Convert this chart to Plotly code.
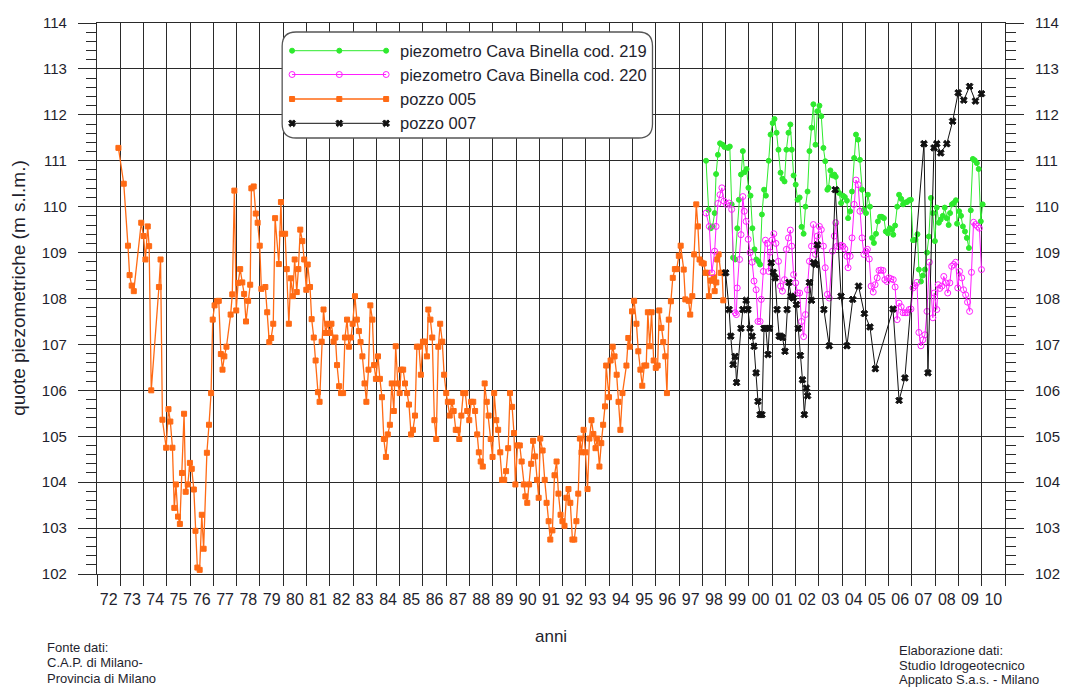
import plotly.graph_objects as go

# ---------------------------------------------------------------- data
# decimal years and groundwater levels (m s.l.m.)
anni_005 = [
    1972.92, 1973.15, 1973.33, 1973.40, 1973.49, 1973.58, 1973.90, 1974.00, 1974.08, 1974.18,
    1974.24, 1974.33, 1974.66, 1974.73, 1974.81, 1974.97, 1975.07, 1975.15, 1975.24, 1975.32,
    1975.39, 1975.48, 1975.56, 1975.65, 1975.74, 1975.81, 1975.90, 1975.99, 1976.07, 1976.16,
    1976.23, 1976.31, 1976.41, 1976.50, 1976.58, 1976.72, 1976.81, 1976.90, 1976.97, 1977.05,
    1977.15, 1977.23, 1977.32, 1977.39, 1977.47, 1977.56, 1977.74, 1977.81, 1977.90, 1977.98,
    1978.06, 1978.15, 1978.24, 1978.32, 1978.40, 1978.49, 1978.58, 1978.63, 1978.73, 1978.82,
    1978.90, 1978.99, 1979.06, 1979.23, 1979.31, 1979.40, 1979.48, 1979.57, 1979.65, 1979.81,
    1979.90, 1979.94, 1980.08, 1980.15, 1980.24, 1980.32, 1980.41, 1980.49, 1980.58, 1980.65,
    1980.73, 1980.82, 1980.90, 1980.99, 1981.05, 1981.15, 1981.22, 1981.31, 1981.39, 1981.49,
    1981.56, 1981.65, 1981.73, 1981.82, 1981.90, 1981.99, 1982.07, 1982.16, 1982.24, 1982.31,
    1982.40, 1982.48, 1982.57, 1982.65, 1982.74, 1982.82, 1982.91, 1982.98, 1983.08, 1983.16,
    1983.25, 1983.32, 1983.40, 1983.49, 1983.57, 1983.66, 1983.74, 1983.83, 1983.90, 1983.98,
    1984.07, 1984.15, 1984.24, 1984.32, 1984.41, 1984.49, 1984.58, 1984.66, 1984.75, 1984.83,
    1984.92, 1985.00, 1985.06, 1985.15, 1985.23, 1985.32, 1985.40, 1985.49, 1985.57, 1985.66,
    1985.74, 1985.83, 1985.91, 1986.00, 1986.08, 1986.17, 1986.23, 1986.32, 1986.40, 1986.49,
    1986.57, 1986.66, 1986.74, 1986.83, 1986.91, 1987.00, 1987.07, 1987.15, 1987.24, 1987.32,
    1987.41, 1987.49, 1987.56, 1987.65, 1987.73, 1987.82, 1987.90, 1987.99, 1988.07, 1988.16,
    1988.24, 1988.33, 1988.40, 1988.48, 1988.57, 1988.65, 1988.74, 1988.82, 1988.91, 1988.99,
    1989.06, 1989.15, 1989.23, 1989.32, 1989.40, 1989.49, 1989.57, 1989.66, 1989.74, 1989.83,
    1989.91, 1989.97, 1990.06, 1990.16, 1990.24, 1990.33, 1990.40, 1990.48, 1990.56, 1990.65,
    1990.73, 1990.82, 1990.90, 1990.97, 1991.04, 1991.14, 1991.23, 1991.31, 1991.40, 1991.47,
    1991.56, 1991.65, 1991.74, 1991.82, 1991.91, 1991.99, 1992.08, 1992.16, 1992.25, 1992.33,
    1992.42, 1992.50, 1992.59, 1992.67, 1992.74, 1992.81, 1992.90, 1992.98, 1993.07, 1993.15,
    1993.24, 1993.32, 1993.41, 1993.49, 1993.58, 1993.66, 1993.74, 1993.82, 1993.87, 1993.99,
    1994.06, 1994.15, 1994.23, 1994.32, 1994.40, 1994.48, 1994.57, 1994.74, 1994.82, 1994.88,
    1994.98, 1995.07, 1995.17, 1995.25, 1995.34, 1995.42, 1995.51, 1995.59, 1995.66, 1995.74,
    1995.82, 1995.91, 1996.00, 1996.08, 1996.15, 1996.24, 1996.32, 1996.41, 1996.48, 1996.56,
    1996.65, 1996.73, 1996.82, 1996.90, 1996.99, 1997.07, 1997.20, 1997.27, 1997.41, 1997.48,
    1997.57, 1997.65, 1997.74, 1997.81, 1997.88, 1997.97, 1998.06, 1998.14, 1998.22, 1998.28,
    1998.36, 1998.42, 1998.49, 1998.53, 1998.60, 1998.64, 1998.70, 1998.79, 1998.85, 1998.90,
]
quote_005 = [
    111.28, 110.50, 109.15, 108.51, 108.28, 108.16, 109.65, 109.36, 108.85, 109.57,
    109.14, 106.00, 108.25, 108.85, 105.36, 104.75, 105.59, 105.32, 104.75, 103.44,
    103.95, 103.25, 103.09, 104.20, 105.49, 103.79, 103.95, 104.42, 104.29, 103.84,
    102.94, 102.14, 102.09, 103.29, 102.55, 104.64, 105.25, 105.94, 107.54, 107.85,
    107.94, 107.95, 106.79, 106.45, 106.74, 106.95, 107.65, 108.09, 110.35, 107.74,
    108.34, 108.64, 108.35, 108.10, 107.50, 107.95, 108.30, 110.40, 110.44, 109.85,
    109.65, 109.15, 108.21, 108.25, 107.70, 107.05, 107.14, 107.45, 109.75, 108.75,
    110.10, 109.41, 109.41, 108.64, 107.45, 108.44, 108.05, 108.85, 108.14, 108.64,
    109.50, 109.25, 108.85, 108.19, 108.74, 108.25, 107.55, 107.15, 106.65, 105.96,
    105.75, 107.06, 107.76, 107.25, 107.45, 107.25, 107.45, 107.06, 107.15, 106.55,
    106.09, 105.94, 105.94, 107.15, 107.54, 106.95, 107.15, 107.45, 108.05, 107.54,
    107.29, 107.05, 106.74, 106.15, 105.75, 106.45, 107.85, 107.54, 106.55, 106.25,
    106.74, 106.25, 105.85, 104.94, 104.55, 105.04, 105.25, 106.15, 105.55, 106.96,
    106.15, 105.94, 106.45, 106.45, 106.15, 105.94, 105.69, 105.04, 105.14, 105.45,
    106.95, 106.95, 106.34, 107.06, 107.06, 106.74, 107.76, 107.54, 107.15, 105.35,
    104.94, 106.95, 107.45, 107.06, 106.34, 105.94, 105.75, 105.45, 105.75, 105.55,
    105.14, 105.14, 104.94, 105.45, 105.94, 105.94, 105.55, 105.35, 105.75, 105.75,
    105.55, 105.04, 104.65, 104.45, 104.34, 106.15, 105.75, 105.45, 104.94, 104.55,
    105.94, 105.35, 105.14, 104.65, 104.05, 104.05, 104.24, 104.74, 105.94, 105.64,
    105.07, 103.95, 104.80, 104.80, 104.45, 103.95, 103.69, 103.55, 103.95, 104.40,
    104.90, 104.56, 104.05, 103.66, 104.95, 104.69, 104.05, 103.55, 103.15, 102.75,
    102.95, 104.15, 104.45, 103.75, 103.29, 103.15, 103.05, 103.66, 103.85, 103.55,
    102.75, 102.75, 103.15, 103.75, 104.95, 104.65, 105.14, 104.65, 103.85, 104.95,
    105.35, 105.05, 104.74, 104.95, 104.34, 104.85, 105.25, 105.65, 106.54, 105.85,
    106.65, 106.95, 106.74, 106.34, 105.75, 105.14, 105.94, 106.54, 107.14, 106.95,
    107.72, 107.95, 107.45, 106.85, 106.45, 106.10, 106.54, 106.54, 107.70, 106.96,
    107.70, 106.65, 106.49, 106.54, 107.74, 107.36, 107.05, 106.74, 105.94, 107.54,
    107.94, 108.45, 108.64, 108.64, 108.93, 109.15, 108.63, 107.98, 107.95, 107.65,
    108.05, 108.96, 110.05, 109.57, 108.85, 108.78, 108.76, 108.56, 108.56, 108.05,
    108.39, 108.39, 108.46, 108.16, 108.35, 108.85, 108.96, 108.56, 108.56, 107.96,
]

anni_219 = [
    1998.16, 1998.27, 1998.36, 1998.44, 1998.53, 1998.59, 1998.67, 1998.76, 1998.87, 1998.95,
    1999.10, 1999.18, 1999.26, 1999.32, 1999.41, 1999.50, 1999.57, 1999.66, 1999.74, 1999.81,
    1999.90, 1999.98, 2000.07, 2000.15, 2000.24, 2000.32, 2000.41, 2000.48, 2000.56, 2000.65,
    2000.73, 2000.85, 2000.93, 2001.02, 2001.10, 2001.19, 2001.27, 2001.36, 2001.44, 2001.53,
    2001.61, 2001.70, 2001.78, 2001.84, 2001.92, 2002.01, 2002.09, 2002.18, 2002.26, 2002.35,
    2002.43, 2002.52, 2002.60, 2002.69, 2002.77, 2002.86, 2002.94, 2003.03, 2003.11, 2003.20,
    2003.28, 2003.37, 2003.42, 2003.50, 2003.59, 2003.67, 2003.73, 2003.79, 2003.87, 2003.96,
    2004.04, 2004.12, 2004.21, 2004.26, 2004.35, 2004.43, 2004.52, 2004.60, 2004.69, 2004.77,
    2004.86, 2004.94, 2005.03, 2005.11, 2005.20, 2005.29, 2005.37, 2005.46, 2005.54, 2005.63,
    2005.71, 2005.80, 2005.88, 2005.97, 2006.05, 2006.14, 2006.20, 2006.28, 2006.37, 2006.45,
    2006.54, 2006.62, 2006.71, 2006.79, 2006.88, 2006.96, 2007.05, 2007.15, 2007.24, 2007.30,
    2007.39, 2007.47, 2007.56, 2007.65, 2007.73, 2007.82, 2007.90, 2007.99, 2008.07, 2008.16,
    2008.24, 2008.33, 2008.41, 2008.50, 2008.58, 2008.64, 2008.72, 2008.80, 2008.89, 2008.94,
    2009.03, 2009.11, 2009.19, 2009.28, 2009.36, 2009.45, 2009.53, 2009.62, 2009.70, 2009.79,
    2009.87, 2009.96, 2010.04,
]
quote_219 = [
    111.00, 109.93, 109.53, 109.57, 109.86, 110.71, 111.13, 111.38, 111.35, 111.30,
    111.28, 111.31, 110.05, 108.89, 108.85, 109.53, 110.15, 110.70, 111.21, 110.75,
    110.82, 110.41, 110.24, 109.53, 109.07, 108.85, 108.81, 108.74, 109.83, 110.37,
    110.24, 111.00, 111.57, 111.82, 111.91, 111.61, 111.24, 110.74, 110.61, 110.55,
    111.24, 111.61, 111.79, 111.24, 110.68, 110.48, 110.15, 110.20, 109.56, 109.41,
    110.00, 110.33, 111.21, 111.72, 112.23, 111.35, 112.08, 112.20, 111.97, 111.28,
    110.99, 110.37, 110.41, 110.79, 110.68, 110.70, 110.65, 110.37, 110.30, 110.08,
    110.24, 110.21, 110.13, 109.75, 109.90, 110.33, 111.06, 111.57, 111.46, 111.02,
    110.37, 109.93, 109.86, 110.26, 110.00, 109.32, 109.21, 109.41, 109.68, 109.78,
    109.78, 109.75, 109.46, 109.42, 109.53, 109.50, 109.39, 109.59, 110.00, 110.26,
    110.17, 110.05, 110.09, 110.10, 110.14, 110.15, 109.27, 109.28, 109.40, 108.63,
    108.37, 108.50, 108.63, 109.00, 109.35, 110.19, 109.86, 109.25, 109.98, 109.65,
    109.72, 109.80, 109.98, 109.75, 109.60, 109.86, 110.05, 110.08, 110.14, 109.63,
    109.90, 109.80, 109.57, 109.46, 109.32, 109.10, 109.92, 111.04, 111.01, 110.95,
    110.82, 109.68, 110.05,
]

anni_220 = [
    1998.16, 1998.30, 1998.41, 1998.53, 1998.59, 1998.67, 1998.76, 1998.84, 1998.93, 1999.04,
    1999.15, 1999.26, 1999.41, 1999.46, 1999.50, 1999.60, 1999.66, 1999.74, 1999.80, 1999.88,
    1999.97, 2000.05, 2000.14, 2000.22, 2000.31, 2000.39, 2000.48, 2000.53, 2000.62, 2000.71,
    2000.79, 2000.85, 2000.91, 2000.99, 2001.07, 2001.16, 2001.27, 2001.36, 2001.44, 2001.53,
    2001.61, 2001.70, 2001.78, 2001.84, 2001.92, 2002.01, 2002.09, 2002.18, 2002.26, 2002.35,
    2002.43, 2002.52, 2002.60, 2002.69, 2002.77, 2002.86, 2002.94, 2003.03, 2003.11, 2003.20,
    2003.28, 2003.37, 2003.45, 2003.59, 2003.67, 2003.73, 2003.79, 2003.87, 2003.96, 2004.04,
    2004.12, 2004.21, 2004.26, 2004.35, 2004.43, 2004.52, 2004.60, 2004.69, 2004.77, 2004.86,
    2004.94, 2005.03, 2005.09, 2005.17, 2005.25, 2005.34, 2005.42, 2005.51, 2005.59, 2005.67,
    2005.76, 2005.84, 2005.93, 2006.01, 2006.10, 2006.20, 2006.28, 2006.37, 2006.45, 2006.54,
    2006.62, 2006.71, 2006.79, 2006.88, 2006.96, 2007.05, 2007.14, 2007.22, 2007.30, 2007.39,
    2007.47, 2007.56, 2007.65, 2007.75, 2007.90, 2007.96, 2008.07, 2008.13, 2008.20, 2008.29,
    2008.37, 2008.46, 2008.54, 2008.63, 2008.71, 2008.80, 2008.88, 2008.97, 2009.05, 2009.14,
    2009.22, 2009.31, 2009.39, 2009.48, 2009.56, 2009.65, 2009.73, 2009.82, 2009.90, 2009.99,
]
quote_220 = [
    109.86, 109.57, 108.56, 109.03, 109.57, 110.07, 110.26, 110.41, 110.12, 110.05,
    110.08, 109.94, 107.69, 107.65, 108.23, 108.85, 109.39, 110.22, 109.90, 109.68,
    109.29, 109.00, 108.79, 108.38, 108.19, 107.50, 107.50, 107.98, 108.59, 109.27,
    109.20, 108.59, 109.01, 109.27, 109.41, 109.20, 108.81, 108.27, 108.16, 108.41,
    109.07, 109.32, 109.49, 109.14, 108.52, 108.34, 108.12, 108.12, 107.50, 107.17,
    107.65, 108.19, 108.81, 109.14, 109.61, 108.96, 109.36, 109.57, 109.50, 109.14,
    108.67, 108.09, 108.01, 109.03, 109.36, 109.65, 109.14, 109.13, 109.16, 109.14,
    109.08, 108.92, 108.67, 108.92, 109.32, 110.05, 110.58, 110.48, 109.90, 109.32,
    108.96, 109.03, 109.07, 108.86, 108.27, 108.14, 108.30, 108.45, 108.61, 108.62,
    108.61, 108.41, 108.37, 108.45, 108.43, 108.41, 108.25, 107.54, 107.90, 107.82,
    107.69, 107.69, 107.69, 107.76, 107.77, 108.23, 108.28, 108.35, 107.26, 106.97,
    107.10, 107.21, 107.72, 108.79, 107.58, 108.12, 107.76, 108.30, 108.22, 108.27,
    108.48, 108.34, 108.12, 108.34, 108.70, 108.74, 108.79, 108.23, 108.59, 108.45,
    108.19, 108.08, 107.92, 107.72, 108.57, 109.66, 109.61, 109.57, 109.53, 108.63,
]

anni_007 = [
    1999.00, 1999.15, 1999.22, 1999.32, 1999.41, 1999.47, 1999.66, 1999.74, 1999.88, 1999.96,
    2000.05, 2000.14, 2000.22, 2000.31, 2000.39, 2000.48, 2000.56, 2000.65, 2000.73, 2000.82,
    2000.88, 2000.96, 2001.05, 2001.13, 2001.21, 2001.30, 2001.36, 2001.44, 2001.55, 2001.64,
    2001.72, 2001.81, 2001.90, 2002.04, 2002.12, 2002.21, 2002.30, 2002.38, 2002.47, 2002.52,
    2002.60, 2002.69, 2002.78, 2002.86, 2002.94, 2003.22, 2003.45, 2003.71, 2003.96, 2004.21,
    2004.46, 2004.71, 2004.96, 2005.20, 2005.43, 2006.19, 2006.45, 2006.70, 2007.52, 2007.69,
    2007.95, 2008.07, 2008.24, 2008.50, 2008.75, 2008.99, 2009.23, 2009.48, 2009.73, 2009.99,
]
quote_007 = [
    108.56, 107.76, 107.18, 106.56, 106.74, 106.17, 107.35, 107.76, 107.96, 107.76,
    107.35, 107.18, 106.96, 106.38, 105.76, 105.47, 105.47, 107.35, 107.35, 106.78,
    107.35, 108.78, 108.57, 108.45, 107.76, 107.18, 107.18, 107.15, 106.85, 107.76,
    108.35, 108.05, 108.01, 107.87, 107.35, 106.76, 106.23, 105.47, 106.05, 105.88,
    108.35, 107.96, 108.78, 108.74, 109.17, 107.76, 106.97, 110.37, 108.05, 106.97,
    107.98, 108.27, 107.67, 107.38, 106.47, 107.77, 105.78, 106.27, 111.37, 106.38,
    111.28, 111.37, 111.17, 111.37, 111.86, 112.48, 112.32, 112.62, 112.30, 112.46,
]

anni_etichette = list(range(1972, 2011))
etichette_anni = [f"{a % 100:02d}" for a in anni_etichette]

serie = [
    ("piezometro Cava Binella cod. 219", "#2EEA2E", "circle", 5, 1),
    ("piezometro Cava Binella cod. 220", "#FF1EFF", "circle-open", 6, 1),
    ("pozzo 005", "#FF6A14", "square", 5, 1.3),
    ("pozzo 007", "#111111", "x", 6, 1),
]

# ---------------------------------------------------------------- geometry
W, H = 1072, 688
ML, MR, MT, MB = 97, 58, 23, 114
PW, PH = W - ML - MR, H - MT - MB
X0, X1 = 1972, 2011
Y0, Y1 = 102, 114
FONT = "Liberation Sans, Arial, sans-serif"
TXT = "#1f1f2e"
GRID = "#2a2a2a"


def fx(px):  # pixel column -> paper
    return (px - ML) / PW


def fy(py):  # pixel row -> paper
    return (H - MB - py) / PH


def dx(px):  # pixel column -> year axis
    return X0 + (px - ML) / PW * (X1 - X0)


def dy(py):  # pixel row -> level axis
    return Y0 + (H - MB - py) / PH * (Y1 - Y0)


fig = go.Figure()


def linea(x, y, nome, colore, simbolo, dim, spess, xa="x", ya="y"):
    fig.add_trace(go.Scatter(
        x=x, y=y, name=nome, mode="lines+markers", xaxis=xa, yaxis=ya,
        line=dict(color=colore, width=spess),
        marker=dict(symbol=simbolo, size=dim, color=colore,
                    line=dict(color=colore, width=1)),
        showlegend=False, hoverinfo="x+y+name",
    ))


cfg = {s[0]: s[1:] for s in serie}
linea(anni_005, quote_005, "pozzo 005", *cfg["pozzo 005"])
linea(anni_219, quote_219, "piezometro Cava Binella cod. 219", *cfg["piezometro Cava Binella cod. 219"])
linea(anni_220, quote_220, "piezometro Cava Binella cod. 220", *cfg["piezometro Cava Binella cod. 220"])
linea(anni_007, quote_007, "pozzo 007", *cfg["pozzo 007"], xa="x2", ya="y2")

# ---------------------------------------------------------------- legend box
bx0, bx1, by0, by1, rr = 284, 658, 32, 138, 14
path = (
    f"M {dx(bx0 + rr)},{dy(by0)} L {dx(bx1 - rr)},{dy(by0)} "
    f"Q {dx(bx1)},{dy(by0)} {dx(bx1)},{dy(by0 + rr)} "
    f"L {dx(bx1)},{dy(by1 - rr)} Q {dx(bx1)},{dy(by1)} {dx(bx1 - rr)},{dy(by1)} "
    f"L {dx(bx0 + rr)},{dy(by1)} Q {dx(bx0)},{dy(by1)} {dx(bx0)},{dy(by1 - rr)} "
    f"L {dx(bx0)},{dy(by0 + rr)} Q {dx(bx0)},{dy(by0)} {dx(bx0 + rr)},{dy(by0)} Z"
)
fig.add_shape(type="path", path=path, xref="x", yref="y", layer="between",
              fillcolor="white", line=dict(color="#555555", width=1.3))

righe = [50.7, 74.5, 99, 123.3]
campioni = [294, 341.7, 389]
for (nome, colore, simbolo, dim, spess), ry in zip(serie, righe):
    fig.add_trace(go.Scatter(
        x=[dx(c) for c in campioni], y=[dy(ry)] * 3, mode="lines+markers",
        line=dict(color=colore, width=spess),
        marker=dict(symbol=simbolo, size=dim, color=colore, line=dict(color=colore, width=1)),
        showlegend=False, hoverinfo="skip",
    ))
    fig.add_annotation(x=fx(401), y=fy(ry), xref="paper", yref="paper", text=nome,
                       showarrow=False, xanchor="left", yanchor="middle",
                       font=dict(family=FONT, size=16.5, color=TXT))

# ---------------------------------------------------------------- text
fig.add_annotation(x=fx(17), y=fy(288), xref="paper", yref="paper",
                   text="quote piezometriche (m s.l.m.)", textangle=-90, showarrow=False,
                   xanchor="center", yanchor="middle", font=dict(family=FONT, size=19, color=TXT))
fig.add_annotation(x=fx(555), y=fy(636), xref="paper", yref="paper", text="anni",
                   showarrow=False, xanchor="center", yanchor="middle",
                   font=dict(family=FONT, size=17, color=TXT))
for testo, yy in [("Fonte dati:", 647), ("C.A.P. di Milano-", 662.5), ("Provincia di Milano", 678)]:
    fig.add_annotation(x=fx(44), y=fy(yy), xref="paper", yref="paper", text=testo,
                       showarrow=False, xanchor="left", yanchor="middle",
                       font=dict(family=FONT, size=13, color=TXT))
for testo, yy in [("Elaborazione dati:", 650), ("Studio Idrogeotecnico", 665),
                  ("Applicato S.a.s. - Milano", 679.5)]:
    fig.add_annotation(x=fx(905), y=fy(yy), xref="paper", yref="paper", text=testo,
                       showarrow=False, xanchor="left", yanchor="middle",
                       font=dict(family=FONT, size=13, color=TXT))

# ---------------------------------------------------------------- axes
asse_y = dict(
    range=[Y0, Y1], tickmode="linear", tick0=Y0, dtick=1,
    ticks="outside", ticklen=18, tickwidth=1.3, tickcolor=GRID,
    minor=dict(dtick=0.2, tick0=Y0, ticks="outside", ticklen=10, tickwidth=1.2,
               tickcolor=GRID, showgrid=False),
    tickfont=dict(family=FONT, size=15, color=TXT), ticklabelstandoff=8,
    zeroline=False, fixedrange=True,
)
fig.update_layout(
    width=W, height=H, autosize=False,
    margin=dict(l=ML, r=MR, t=MT, b=MB, pad=0),
    paper_bgcolor="white", plot_bgcolor="white",
    showlegend=False,
    xaxis=dict(
        range=[X0, X1], tickmode="linear", tick0=X0, dtick=1,
        showgrid=True, gridcolor=GRID, gridwidth=1.2,
        ticks="outside", ticklen=11, tickwidth=1.2, tickcolor=GRID,
        showticklabels=False, showline=True, linecolor=GRID, linewidth=1.3,
        mirror=True, zeroline=False, fixedrange=True,
    ),
    xaxis2=dict(
        range=[X0, X1], overlaying="x", side="bottom",
        tickmode="array", tickvals=[a + 0.5 for a in anni_etichette], ticktext=etichette_anni,
        showgrid=False, ticks="outside", ticklen=11, tickcolor="rgba(0,0,0,0)",
        tickfont=dict(family=FONT, size=16, color=TXT),
        showline=False, zeroline=False, fixedrange=True,
    ),
    yaxis=dict(**asse_y, showgrid=True, gridcolor=GRID, gridwidth=1.3,
               showline=True, linecolor=GRID, linewidth=1.3, mirror=True, side="left"),
    yaxis2=dict(**asse_y, showgrid=False, overlaying="y", side="right", showline=False),
)

fig.write_html("out.html")
